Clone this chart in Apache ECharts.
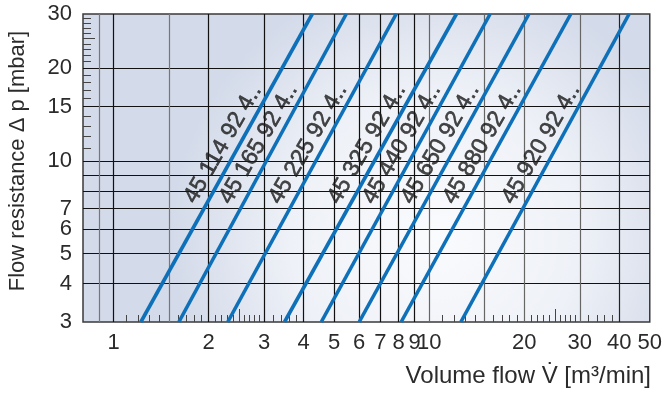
<!DOCTYPE html>
<html lang="en">
<head>
    <meta charset="UTF-8">
    <title>Flow resistance</title>
    <script src="https://cdn.jsdelivr.net/npm/echarts@6/dist/echarts.min.js"></script>
    <style>
        html, body { margin: 0; padding: 0; background: #fff; }
        #chart { width: 665px; height: 393px; }
    </style>
</head>
<body>
<div id="chart"></div>
<script>
    // filter types printed along the lines
    var filterNames = ['45 114 92 4..', '45 165 92 4..', '45 225 92 4..', '45 325 92 4..',
                       '45 440 92 4..', '45 650 92 4..', '45 880 92 4..', '45 920 92 4..'];
    // volume flow [m3/min] where each line crosses 3 mbar and 30 mbar
    var flowAt3  = [1.22, 1.61, 2.30, 3.48, 4.55, 6.0, 8.15, 12.6];
    var flowAt30 = [4.26, 5.46, 7.86, 12.2, 15.6, 20.7, 28.1, 43.0];
    var dpEnds = [3, 30];

    // grid lines and tick labels
    var xGrid = [0.9, 1, 1.5, 2, 3, 4, 5, 6, 7, 8, 9, 10, 15, 20, 30, 40];
    var xGridColor = ['#777', '#111', '#777', '#111', '#111', '#111', '#111', '#111',
                      '#111', '#111', '#111', '#666', '#666', '#666', '#666', '#222'];
    var xLabels = [1, 2, 3, 4, 5, 6, 7, 8, 9, 10, 20, 30, 40, 50];
    var xMinor = [1.1, 1.2, 1.3, 1.4, 1.6, 1.7, 1.8, 1.9, 2.1, 2.2, 2.3, 2.4, 2.6, 2.7, 2.8, 2.9,
                  3.2, 3.4, 3.6, 3.8, 11, 12, 13, 14, 16, 17, 18, 19, 21, 22, 23, 24, 26, 27, 28, 29,
                  32, 34, 36, 38];
    var xMinorLong = [2.5, 25];
    var yGrid = [4, 5, 6, 7, 8, 9, 10, 15, 20];
    var yLabels = [3, 4, 5, 6, 7, 10, 15, 20, 30];
    var yMinor = [11, 12, 13, 14, 16, 17, 18, 19, 21, 22, 23, 24, 26, 27, 28, 29];
    var yMinorLong = [25];

    var labelDp = 11.35;     // where the type labels sit
    var labelShift = 0.884;  // labels sit left of their line

    var font = '"Liberation Sans", Arial, Helvetica, sans-serif';
    var fmt = function (v) { return String(+Number(v).toPrecision(3)); };

    function flowOnLine(i, dp) {
        var t = Math.log(dp / dpEnds[0]) / Math.log(dpEnds[1] / dpEnds[0]);
        return flowAt3[i] * Math.pow(flowAt30[i] / flowAt3[i], t);
    }

    function xAxisBase() {
        return {
            type: 'log', logBase: 10, min: 0.8, max: 50, position: 'bottom',
            axisLine: { show: false }, splitLine: { show: false },
            axisLabel: { show: false }, axisTick: { show: false }
        };
    }
    function yAxisBase() {
        return {
            type: 'log', logBase: 10, min: 3, max: 30, position: 'left',
            axisLine: { show: false }, splitLine: { show: false },
            axisLabel: { show: false }, axisTick: { show: false }
        };
    }

    var xMain = xAxisBase();
    xMain.axisTick = { show: false, customValues: xGrid };
    xMain.splitLine = { show: true, lineStyle: { color: xGridColor, width: 1.2 } };
    xMain.axisLabel = { show: true, customValues: xLabels, formatter: fmt, margin: 10,
                        fontSize: 22, color: '#2b2b2b', fontFamily: font };
    var xTicks = xAxisBase();
    xTicks.axisTick = { show: true, inside: true, length: 7, customValues: xMinor,
                        lineStyle: { color: '#444', width: 1 } };
    var xTicksLong = xAxisBase();
    xTicksLong.axisTick = { show: true, inside: true, length: 13, customValues: xMinorLong,
                            lineStyle: { color: '#444', width: 1 } };

    var yMain = yAxisBase();
    yMain.axisTick = { show: false, customValues: yGrid };
    yMain.splitLine = { show: true, lineStyle: { color: '#111', width: 1.2 } };
    yMain.axisLabel = { show: true, customValues: yLabels, formatter: fmt, margin: 11,
                        fontSize: 22, color: '#2b2b2b', fontFamily: font };
    var yTicks = yAxisBase();
    yTicks.axisTick = { show: true, inside: true, length: 8, customValues: yMinor,
                        lineStyle: { color: '#444', width: 1 } };
    var yTicksLong = yAxisBase();
    yTicksLong.axisTick = { show: true, inside: true, length: 12, customValues: yMinorLong,
                            lineStyle: { color: '#444', width: 1 } };

    var series = [];
    filterNames.forEach(function (name, i) {
        series.push({
            name: name,
            type: 'line',
            silent: true,
            symbol: 'none',
            lineStyle: { color: '#0d70b8', width: 3.6 },
            data: [[flowAt3[i], dpEnds[0]], [flowAt30[i], dpEnds[1]]],
            z: 3
        });
    });
    series.push({
        type: 'scatter',
        silent: true,
        symbolSize: 0,
        clip: false,
        z: 4,
        label: {
            show: true, position: 'inside', rotate: 60,
            formatter: function (p) { return p.name; },
            fontSize: 23, color: '#1a1a1a', fontFamily: font,
            textBorderColor: '#1a1a1a', textBorderWidth: 0.6
        },
        data: filterNames.map(function (name, i) {
            return { name: name, value: [flowOnLine(i, labelDp) * labelShift, labelDp] };
        })
    });

    var chart = echarts.init(document.getElementById('chart'));
    chart.setOption({
        animation: false,
        grid: {
            left: 83, right: 14, top: 14, bottom: 71,
            show: true,
            borderColor: '#3a3a3a', borderWidth: 1.5,
            backgroundColor: new echarts.graphic.RadialGradient(0.62, 0.72, 0.85, [
                { offset: 0, color: '#fafbfd' },
                { offset: 0.55, color: '#eef1f7' },
                { offset: 1, color: '#d3dae9' }
            ])
        },
        xAxis: [xMain, xTicks, xTicksLong],
        yAxis: [yMain, yTicks, yTicksLong],
        graphic: [
            {
                type: 'text', x: 18, y: 161, rotation: Math.PI / 2,
                style: { text: 'Flow resistance \u0394 p [mbar]', fill: '#2b2b2b',
                         font: '22px ' + font, align: 'center', verticalAlign: 'middle' }
            },
            {
                type: 'text', right: 14, top: 364,
                style: { text: 'Volume flow V\u0307 [m\u00b3/min]', fill: '#2b2b2b',
                         font: '24px ' + font }
            }
        ],
        series: series
    });
</script>
</body>
</html>
